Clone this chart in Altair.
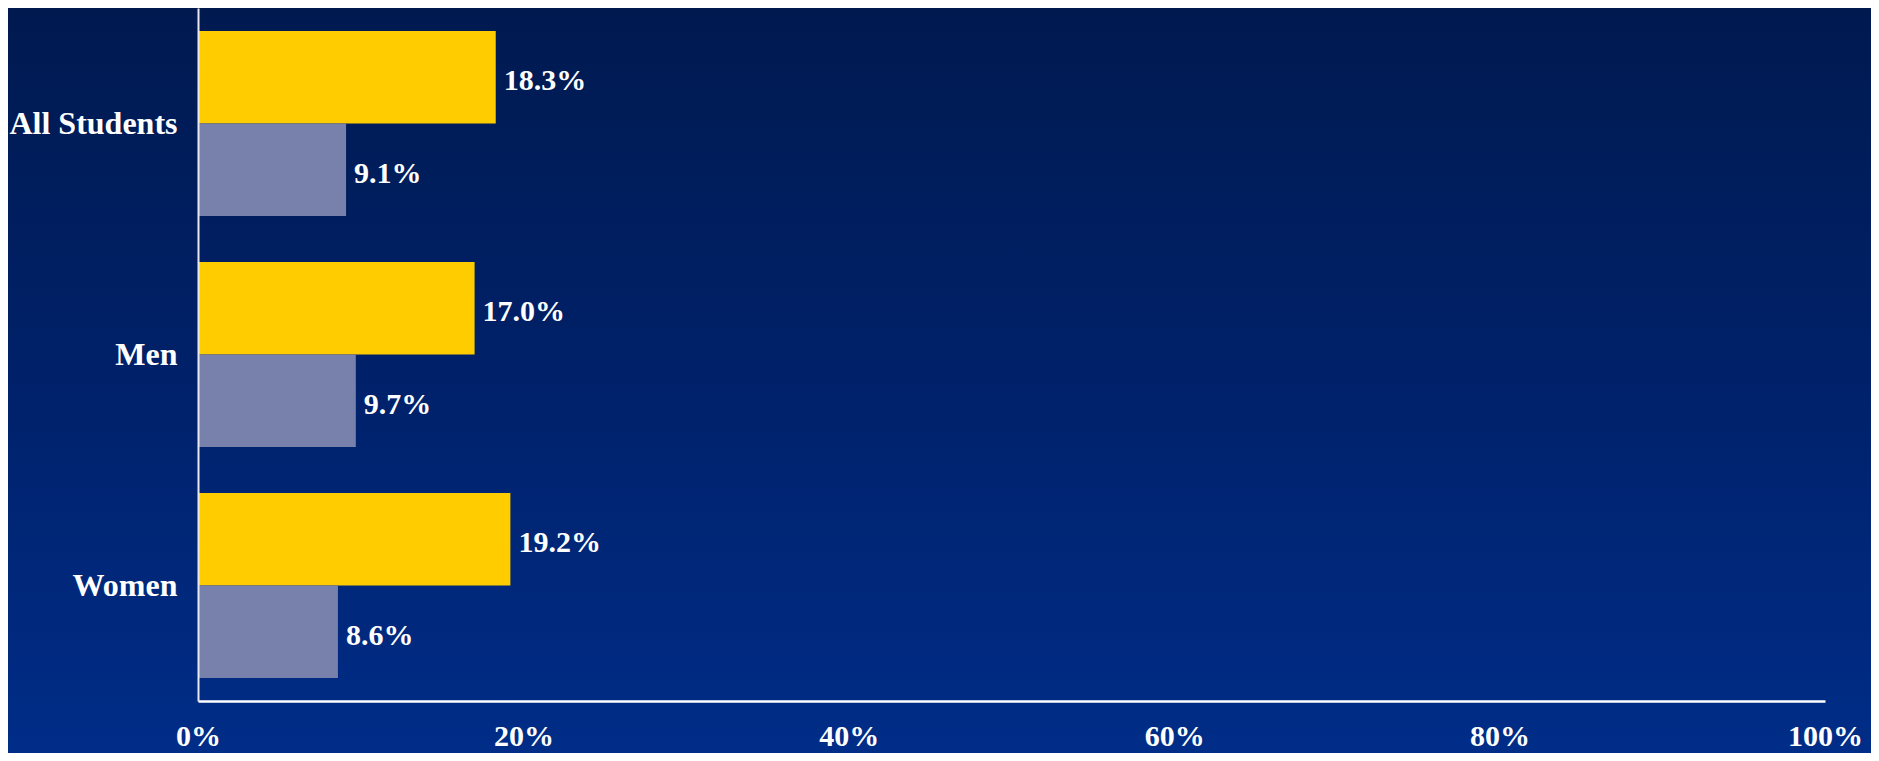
import altair as alt
import pandas as pd

categories = ["All Students", "Men", "Women"]
series_names = ["Series A", "Series B"]
series_a = [18.3, 17.0, 19.2]
series_b = [9.1, 9.7, 8.6]
tick_values = [0, 20, 40, 60, 80, 100]

rows = []
for c, a, b in zip(categories, series_a, series_b):
    rows.append({"category": c, "series": series_names[0], "value": a})
    rows.append({"category": c, "series": series_names[1], "value": b})
df = pd.DataFrame(rows)

W, H = 1627, 693
PAD = {"left": 190, "top": 0, "right": 46, "bottom": 52}
FONT = "Liberation Serif"

bg = alt.Chart(pd.DataFrame({"k": [0]})).mark_rect(
    color=alt.Gradient(
        gradient="linear",
        stops=[
            alt.GradientStop(color="#001A50", offset=0),
            alt.GradientStop(color="#00216A", offset=0.5),
            alt.GradientStop(color="#002D88", offset=1),
        ],
        x1=0, x2=0, y1=0, y2=1,
    )
).encode(
    x=alt.value(-PAD["left"]),
    x2=alt.value(W + PAD["right"]),
    y=alt.value(-PAD["top"]),
    y2=alt.value(H + PAD["bottom"]),
)

y_enc = alt.Y(
    "category:N",
    sort=categories,
    scale=alt.Scale(paddingInner=0.2, paddingOuter=0.1),
    axis=alt.Axis(
        title=None,
        ticks=False,
        tickSize=0,
        labelPadding=21,
        labelFont=FONT,
        labelFontSize=32,
        labelFontWeight="bold",
        labelColor="white",
        domainColor="#E8E8F0",
        domainWidth=2,
        grid=False,
        zindex=2,
    ),
)
x_enc = alt.X(
    "value:Q",
    scale=alt.Scale(domain=[0, 100], nice=False),
    axis=alt.Axis(
        title=None,
        values=tick_values,
        ticks=False,
        tickSize=0,
        labelExpr="datum.value + '%'",
        labelFont=FONT,
        labelFontSize=30,
        labelFontWeight="bold",
        labelColor="white",
        labelBaseline="alphabetic",
        labelPadding=44,
        labelFlush=False,
        labelOverlap=False,
        labelBound=False,
        domainColor="white",
        domainWidth=2.5,
        grid=False,
        zindex=2,
    ),
)
yoff = alt.YOffset("series:N", sort=series_names)

bars = alt.Chart(df).mark_bar().encode(
    y=y_enc,
    x=x_enc,
    yOffset=yoff,
    color=alt.Color(
        "series:N",
        scale=alt.Scale(domain=series_names, range=["#FFCC00", "#7880AC"]),
        legend=None,
    ),
)

labels = alt.Chart(df).transform_calculate(
    label="format(datum.value, '.1f') + '%'"
).mark_text(
    align="left", baseline="middle", dx=8, dy=4,
    font=FONT, fontSize=30, fontWeight="bold", color="white",
).encode(
    y=alt.Y("category:N", sort=categories),
    x=alt.X("value:Q"),
    yOffset=yoff,
    text="label:N",
)

chart = alt.layer(bg, bars, labels).properties(
    width=W, height=H,
    autosize=alt.AutoSizeParams(type="none"),
    padding=PAD,
    background="#00216A",
).configure_view(stroke=None)

chart.save("out.html", embed_options={"renderer": "svg", "actions": False})
